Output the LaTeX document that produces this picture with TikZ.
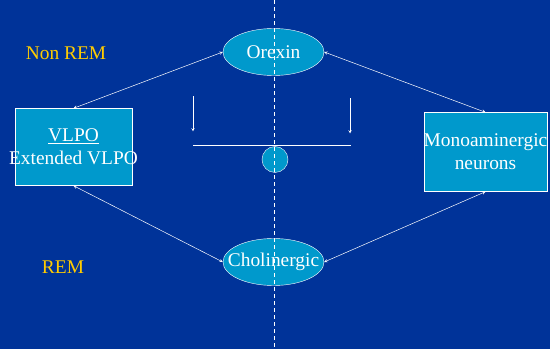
\documentclass[tikz,border=0pt]{standalone}
\usepackage{fontspec}
\setmainfont{Liberation Serif}
\usetikzlibrary{shapes.geometric}
\definecolor{slideblue}{HTML}{003399}
\definecolor{boxblue}{HTML}{0099CC}
\definecolor{sleepyellow}{HTML}{FFCC00}
\tikzset{>=stealth}
\tikzset{
  cell/.style={draw=white, fill=boxblue, text=white, align=center, inner sep=0pt},
  oval/.style={cell, ellipse, minimum width=101pt, minimum height=47pt},
  box/.style={cell, rectangle},
  link/.style={<->, white, line width=0.5pt},
  state/.style={text=sleepyellow}
}
\newcommand{\wide}[1]{\makebox[0pt]{#1}}

\begin{document}
\begin{tikzpicture}[x=1pt, y=-1pt, font=\fontsize{19.4}{23}\selectfont]
\fill[slideblue] (0,0) rectangle (550,349);
\node[oval] (orexin) at (273.5,51.5) {Orexin};
\node[oval] (chol) at (273.5,261.5) {\wide{Cholinergic}};
\node[box, minimum width=117pt, minimum height=77pt] (vlpo) at (73.5,146.5)
  {\underline{VLPO}\\\wide{Extended VLPO}};
\node[box, minimum width=123pt, minimum height=79pt] (mono) at (485.5,151.5)
  {\wide{Monoaminergic}\\neurons};
\node[state] (nrem) at (66,53) {Non REM};
\node[state] (rem) at (63,267) {REM};
\draw[link] (orexin.west) -- (vlpo.north);
\draw[link] (orexin.east) -- (mono.north);
\draw[link] (chol.west) -- (vlpo.south);
\draw[link] (chol.east) -- (mono.south);
\coordinate (la) at (193,96);
\coordinate (lb) at (193,131);
\coordinate (ra) at (350,98);
\coordinate (rb) at (350,133);
\draw[->, white, line width=0.5pt] (la) -- (lb);
\draw[->, white, line width=0.5pt] (ra) -- (rb);
\coordinate (bl) at (193,145);
\coordinate (br) at (351,145);
\draw[white, line width=1.5pt] (bl) -- (br);
\node[cell, circle, minimum size=26pt] (ball) at (275,159) {};
\coordinate (top) at (274,0);
\coordinate (bot) at (274,349);
\draw[white, line width=1pt, dash pattern=on 4pt off 3pt] (top) -- (bot);
\end{tikzpicture}
\end{document}
